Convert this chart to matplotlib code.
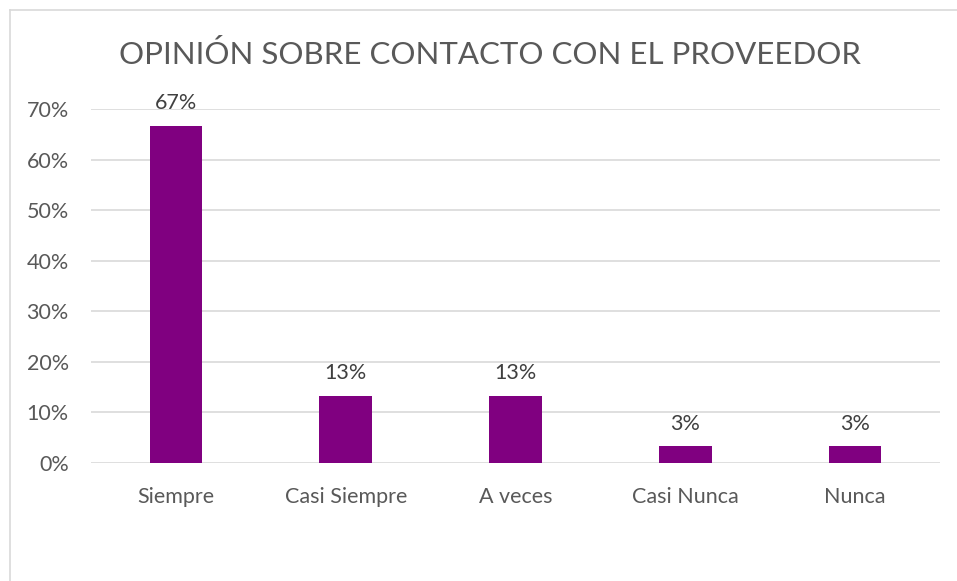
import matplotlib
matplotlib.use("Agg")
import matplotlib.pyplot as plt
from matplotlib.lines import Line2D
from matplotlib.ticker import FuncFormatter

categories = ["Siempre", "Casi Siempre", "A veces", "Casi Nunca", "Nunca"]
values = [20/30, 4/30, 4/30, 1/30, 1/30]
labels = ["67%", "13%", "13%", "3%", "3%"]
title = "OPINIÓN SOBRE CONTACTO CON EL PROVEEDOR"

plt.rcParams['font.family'] = ['Lato', 'DejaVu Sans']

W, H = 957, 581
fig = plt.figure(figsize=(W/100, H/100), dpi=100)
fig.patch.set_facecolor('white')

# chart border (top and left visible)
fig.add_artist(Line2D([10/W, 1], [1-10/H, 1-10/H], color='#d9d9d9', lw=1.2, transform=fig.transFigure))
fig.add_artist(Line2D([10/W, 10/W], [0, 1-10/H], color='#d9d9d9', lw=1.2, transform=fig.transFigure))

ax = fig.add_axes([91/W, 1-463/H, (940-91)/W, (463-109)/H])
x = range(len(categories))
ax.bar(x, values, width=0.31, color='#800080', zorder=3)
ax.set_xlim(-0.5, len(categories)-0.5)
ax.set_ylim(0, 0.7)
ax.set_yticks([i/10 for i in range(8)])
ax.yaxis.set_major_formatter(FuncFormatter(lambda v, p: f"{v*100:.0f}%"))
ax.set_xticks(list(x))
ax.set_xticklabels(categories)
ax.grid(axis='y', color='#d9d9d9', lw=1.2, zorder=0)
for s in ax.spines.values():
    s.set_visible(False)
ax.tick_params(axis='both', length=0, labelsize=15.5, colors='#595959')
ax.tick_params(axis='y', pad=16)
ax.tick_params(axis='x', pad=17)
for xi, v, lab in zip(x, values, labels):
    ax.annotate(lab, (xi, v), xytext=(0, 9), textcoords='offset points',
                ha='center', va='bottom', fontsize=15.5, color='#404040')

fig.text(490/W, 1-55/H, title, ha='center', va='center', fontsize=22.5, color='#595959')

fig.savefig("out.png", dpi=100)
